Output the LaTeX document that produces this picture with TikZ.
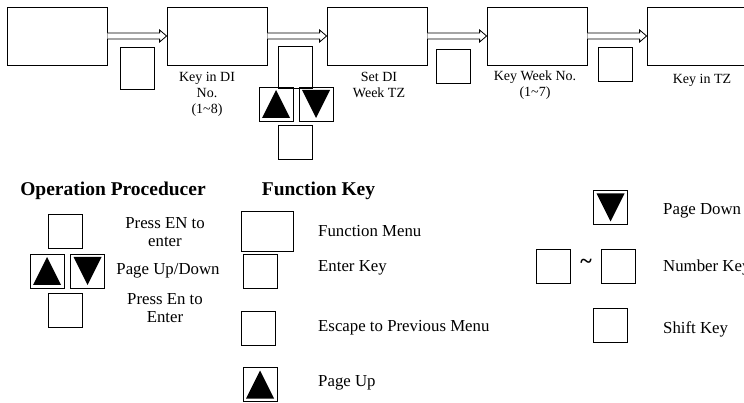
\documentclass[tikz,border=0pt]{standalone}
\usepackage{fontspec}
\setmainfont{Liberation Serif}
\usetikzlibrary{calc}

\tikzset{
  menubox/.style={draw, line width=0.8pt, minimum width=100pt, minimum height=58pt, inner sep=0pt},
  keybox/.style={draw, line width=0.8pt, minimum width=34pt, minimum height=34pt, inner sep=0pt},
  tallkey/.style={keybox, minimum height=42pt},
  widekey/.style={keybox, minimum width=52pt, minimum height=40pt},
  upkey/.style={keybox, path picture={\fill ([shift={(3pt,3pt)}]path picture bounding box.south west)
      -- ([shift={(-3pt,3pt)}]path picture bounding box.south east)
      -- ([shift={(0pt,-3pt)}]path picture bounding box.north) -- cycle;}},
  downkey/.style={keybox, path picture={\fill ([shift={(3pt,-3pt)}]path picture bounding box.north west)
      -- ([shift={(-3pt,-3pt)}]path picture bounding box.north east)
      -- ([shift={(0pt,3pt)}]path picture bounding box.south) -- cycle;}},
  steplabel/.style={align=center, inner sep=0pt, font=\fontsize{14}{16}\selectfont},
  legendtext/.style={inner sep=0pt, font=\fontsize{16.8}{18}\selectfont},
  heading/.style={inner sep=0pt, font=\fontsize{19.5}{21}\selectfont\bfseries},
  arrowline/.style={draw, line width=0.8pt, fill=white, line join=miter},
}

% hollow double-shaft arrow from the east side of #1 to the west side of #2
\newcommand\hollowarrow[2]{%
  \path[arrowline] ([yshift=3pt]#1.east) -- ([xshift=-7pt,yshift=3pt]#2.west)
    -- ([xshift=-7pt,yshift=6pt]#2.west) -- (#2.west)
    -- ([xshift=-7pt,yshift=-6pt]#2.west) -- ([xshift=-7pt,yshift=-3pt]#2.west)
    -- ([yshift=-3pt]#1.east);}

\begin{document}
\begin{tikzpicture}[x=1pt, y=-1pt]
  \useasboundingbox (0,0) rectangle (744,403);

  % menu screens of the flow
  \node[menubox] (m1) at (57,36) {};
  \node[menubox] (m2) at (217,36) {};
  \node[menubox] (m3) at (377,36) {};
  \node[menubox] (m4) at (537,36) {};
  \node[menubox] (m5) at (697,36) {};

  \hollowarrow{m1}{m2}
  \hollowarrow{m2}{m3}
  \hollowarrow{m3}{m4}
  \hollowarrow{m4}{m5}

  % keys pressed between screens
  \node[tallkey] (k1) at (137.5,68) {};
  \node[tallkey] (k2) at (295,67) {};
  \node[upkey]   (k2u) at (276,104) {};
  \node[downkey] (k2d) at (316,104) {};
  \node[keybox]  (k2b) at (295,142.5) {};
  \node[keybox]  (k3) at (453.5,66) {};
  \node[keybox]  (k4) at (615.5,64) {};

  % screen captions
  \node[steplabel] (l2) at (207,94) {Key in DI\\No.\\(1\textasciitilde 8)};
  \node[steplabel] (l3) at (379,85) {Set DI\\Week TZ};
  \node[steplabel] (l4) at (535,85) {Key Week No.\\(1\textasciitilde 7)};
  \node[steplabel] (l5) at (702,80) {Key in TZ};

  % operation procedure legend
  \node[heading] (h1) at (113,191) {Operation Proceducer};
  \node[keybox]  (o1) at (65.5,231.5) {};
  \node[upkey]   (o2) at (47,271) {};
  \node[downkey] (o3) at (87.5,271) {};
  \node[keybox]  (o4) at (65.5,310.5) {};
  \node[legendtext, align=center] (ot1) at (165,232) {Press EN to\\enter};
  \node[legendtext] (ot2) at (168,271) {Page Up/Down};
  \node[legendtext, align=center] (ot3) at (165,308) {Press En to\\Enter};

  % function key legend
  \node[heading] (h2) at (318.5,191) {Function Key};
  \node[widekey] (f1) at (267,231) {};
  \node[legendtext, anchor=west] (ft1) at (318,231) {Function Menu};
  \node[keybox]  (f2) at (260,271) {};
  \node[legendtext, anchor=west] (ft2) at (318,268) {Enter Key};
  \node[keybox]  (f3) at (258,328.5) {};
  \node[legendtext, anchor=west] (ft3) at (318,328) {Escape to Previous Menu};
  \node[upkey]   (f4) at (260,384.5) {};
  \node[legendtext, anchor=west] (ft4) at (318,383) {Page Up};

  \node[downkey] (f5) at (610.5,207.5) {};
  \node[legendtext, anchor=west] (ft5) at (663,211) {Page Down};
  \node[keybox]  (f6a) at (553.5,266) {};
  \node[inner sep=0pt, font=\fontsize{22}{22}\selectfont\bfseries] (tl) at (586,264) {\textasciitilde};
  \node[keybox]  (f6b) at (618.5,266) {};
  \node[legendtext, anchor=west] (ft6) at (663,267) {Number Key};
  \node[keybox]  (f7) at (610.5,325) {};
  \node[legendtext, anchor=west] (ft7) at (663,329) {Shift Key};
\end{tikzpicture}
\end{document}
